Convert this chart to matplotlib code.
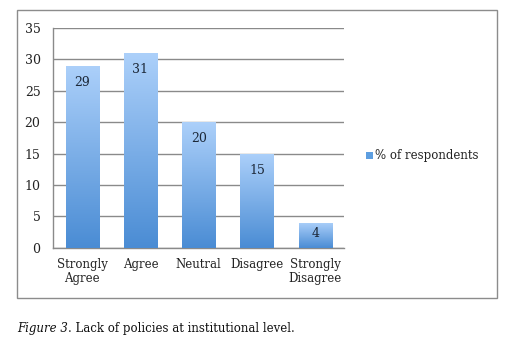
import numpy as np
import matplotlib
matplotlib.use("Agg")
import matplotlib.pyplot as plt
from matplotlib.patches import Rectangle
from matplotlib.colors import LinearSegmentedColormap

categories = ["Strongly\nAgree", "Agree", "Neutral", "Disagree", "Strongly\nDisagree"]
values = [29, 31, 20, 15, 4]
series_name = "% of respondents"
y_ticks = [0, 5, 10, 15, 20, 25, 30, 35]

plt.rcParams["font.family"] = ["DejaVu Serif"]

fig = plt.figure(figsize=(5.1, 3.41), dpi=100)
fig.patch.set_facecolor("white")

# outer chart frame
fig.patches.append(Rectangle((0.033, 0.126), 0.941, 0.845, transform=fig.transFigure,
                             fill=False, edgecolor="#8c8c8c", linewidth=1.0))

ax = fig.add_axes([0.104, 0.273, 0.571, 0.645])
grad = LinearSegmentedColormap.from_list("bluegrad", ["#4a8cd4", "#acd0fa"])

x = np.arange(len(categories))
width = 0.57
bars = ax.bar(x, values, width=width, color="none", edgecolor="none", zorder=3)
for b in bars:
    x0, y0 = b.get_x(), b.get_y()
    w, h = b.get_width(), b.get_height()
    img = ax.imshow(np.linspace(0, 1, 256).reshape(-1, 1), cmap=grad, origin="lower",
                    extent=[x0, x0 + w, y0, y0 + h], aspect="auto", zorder=3)
    img.set_clip_path(b)

for xi, v in zip(x, values):
    off = -12 if v > 8 else -8
    ax.annotate(str(v), (xi, v), xytext=(0, off), textcoords="offset points",
                ha="center", va="center", fontsize=9, color="#1c2838", zorder=4)

ax.set_xlim(-0.5, len(categories) - 0.5)
ax.set_ylim(0, 35)
ax.set_yticks(y_ticks)
ax.set_xticks(x)
ax.set_xticklabels(categories, fontsize=8.5, color="#222222", linespacing=1.1)
ax.tick_params(axis="y", labelsize=9, colors="#222222", length=0, pad=9)
ax.tick_params(axis="x", length=0, pad=7)
ax.grid(axis="y", color="#8a8a8a", linewidth=1.0, zorder=0)
ax.set_axisbelow(True)
for s in ["top", "right"]:
    ax.spines[s].set_visible(False)
for s in ["left", "bottom"]:
    ax.spines[s].set_color("#8a8a8a")
    ax.spines[s].set_linewidth(1.0)

# legend
fig.patches.append(Rectangle((0.718, 0.535), 0.013, 0.018, transform=fig.transFigure,
                             facecolor="#5d9ee0", edgecolor="none"))
fig.text(0.735, 0.543, series_name, fontsize=8.5, color="#222222", va="center", ha="left")

# caption
t1 = fig.text(0.033, 0.027, "Figure 3", fontsize=8.5, style="italic", color="#111111",
              va="baseline")
fig.canvas.draw()
ax.annotate(". Lack of policies at institutional level.", xy=(1, 0), xycoords=t1,
            va="bottom", ha="left", fontsize=8.5, color="#111111", annotation_clip=False)

fig.savefig("out.png", dpi=100)
